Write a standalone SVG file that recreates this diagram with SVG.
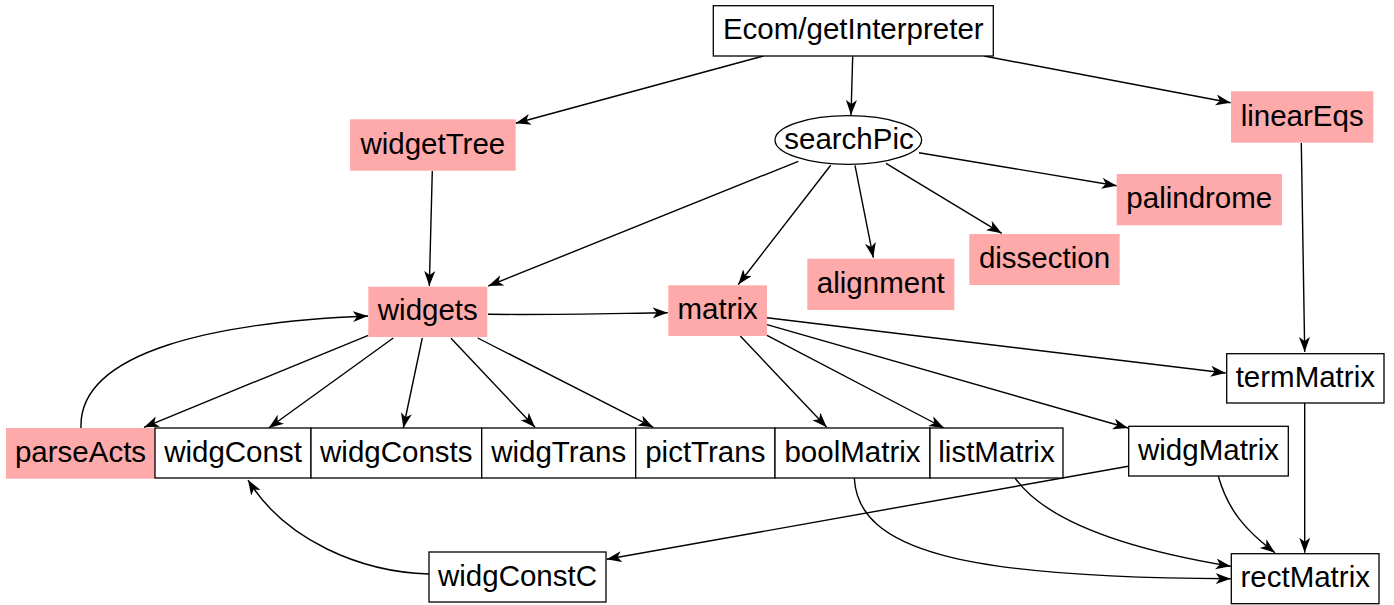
<svg xmlns="http://www.w3.org/2000/svg" width="1394" height="605" viewBox="0 0 1394 605">
<style>
text{font-family:"Liberation Sans",Arial,Helvetica,sans-serif;font-size:29.5px;fill:#000;text-anchor:middle}
.b{fill:#fff;stroke:#000;stroke-width:1.3}
.p{fill:#ffaaaa;stroke:none}
.e{fill:none;stroke:#000;stroke-width:1.4;marker-end:url(#ah)}
</style>
<defs>
<marker id="ah" markerUnits="userSpaceOnUse" markerWidth="16" markerHeight="12" refX="15" refY="5.5" orient="auto">
<path d="M0,0 L15,5.5 L0,11 L4,5.5 z" fill="#000"/>
</marker>
</defs>
<rect width="1394" height="605" fill="#fff"/>
<g id="connectors">
<path class="e" d="M763.3,56 L515.7,123.3"/>
<path class="e" d="M852.7,56 L851,115"/>
<path class="e" d="M984,56 L1230.7,102.7"/>
<path class="e" d="M432.3,171 C431,230 430,260 429.3,286"/>
<path class="e" d="M798.3,161.3 L488.3,286"/>
<path class="e" d="M830.7,165.3 L738.3,284.5"/>
<path class="e" d="M855,165.3 L873.3,257.7"/>
<path class="e" d="M886,163.3 L1001.7,233.3"/>
<path class="e" d="M919,152.7 L1116.7,185.7"/>
<path class="e" d="M1301.3,143 L1304.7,352"/>
<path class="e" d="M488,314.3 C560,315 610,313.5 667.7,312.7"/>
<path class="e" d="M81,428 C78,350 220,322 368,316"/>
<path class="e" d="M368.3,335.3 L144,427.3"/>
<path class="e" d="M393.3,338 L268.7,428"/>
<path class="e" d="M422.3,338 L403.3,428"/>
<path class="e" d="M451,338.3 L535,427.3"/>
<path class="e" d="M477.7,338 L653.3,427.3"/>
<path class="e" d="M767,317.7 L1225.7,373"/>
<path class="e" d="M767,324.7 L1128,428"/>
<path class="e" d="M767,335.3 L944,428"/>
<path class="e" d="M740.3,336 L826.7,427.3"/>
<path class="e" d="M1128.3,466.3 L606.7,559.3"/>
<path class="e" d="M429,574 C360,572 285,540 248,480"/>
<path class="e" d="M854.3,478 C858,550 960,578 1230.7,578.7"/>
<path class="e" d="M1015,478 C1045,520 1120,548 1230.7,566.3"/>
<path class="e" d="M1218.3,476.3 C1228,510 1245,530 1275,552.7"/>
<path class="e" d="M1304.7,403 L1304.7,552.7"/>
</g>
<g id="n-ecom"><rect class="b" x="713.3" y="5.7" width="280" height="50.3"/><text x="853.3" y="39.3">Ecom/getInterpreter</text></g>
<g id="n-widgetTree"><rect class="p" x="350" y="119.3" width="165.7" height="51.4"/><text x="432.8" y="153.5">widgetTree</text></g>
<g id="n-searchPic"><ellipse class="b" cx="848.3" cy="140" rx="73.3" ry="24.3"/><text x="849" y="148.5">searchPic</text></g>
<g id="n-linearEqs"><rect class="p" x="1231" y="91.3" width="142.3" height="51.4"/><text x="1302.2" y="125.5">linearEqs</text></g>
<g id="n-palindrome"><rect class="p" x="1116.7" y="174" width="165.3" height="51.3"/><text x="1199.3" y="208.2">palindrome</text></g>
<g id="n-dissection"><rect class="p" x="969.3" y="234" width="150.4" height="51"/><text x="1044.5" y="268">dissection</text></g>
<g id="n-alignment"><rect class="p" x="807.3" y="258.7" width="147" height="51.3"/><text x="880.8" y="292.8">alignment</text></g>
<g id="n-widgets"><rect class="p" x="368.3" y="286.7" width="119" height="50.3"/><text x="427.8" y="320.3">widgets</text></g>
<g id="n-matrix"><rect class="p" x="668.3" y="285.3" width="98.7" height="50.7"/><text x="717.7" y="319.2">matrix</text></g>
<g id="n-parseActs"><rect class="p" x="6" y="428" width="149" height="50.7"/><text x="80.5" y="461.8">parseActs</text></g>
<g id="n-widgConst"><rect class="b" x="155" y="428" width="156" height="50"/><text x="233" y="461.5">widgConst</text></g>
<g id="n-widgConsts"><rect class="b" x="311" y="428" width="170.7" height="50"/><text x="396.3" y="461.5">widgConsts</text></g>
<g id="n-widgTrans"><rect class="b" x="481.7" y="428" width="154" height="50"/><text x="558.7" y="461.5">widgTrans</text></g>
<g id="n-pictTrans"><rect class="b" x="635.7" y="428" width="139.3" height="50"/><text x="705.3" y="461.5">pictTrans</text></g>
<g id="n-boolMatrix"><rect class="b" x="775" y="428" width="155" height="50"/><text x="852.5" y="461.5">boolMatrix</text></g>
<g id="n-listMatrix"><rect class="b" x="930" y="428" width="133" height="50"/><text x="996.5" y="461.5">listMatrix</text></g>
<g id="n-widgMatrix"><rect class="b" x="1128.7" y="426.3" width="159.6" height="49.7"/><text x="1208.5" y="459.7">widgMatrix</text></g>
<g id="n-termMatrix"><rect class="b" x="1226.7" y="353.7" width="157.3" height="49.3"/><text x="1305.3" y="386.8">termMatrix</text></g>
<g id="n-rectMatrix"><rect class="b" x="1231.3" y="553.7" width="147.7" height="50"/><text x="1305.2" y="587.2">rectMatrix</text></g>
<g id="n-widgConstC"><rect class="b" x="429" y="552" width="177" height="50"/><text x="517.5" y="585.5">widgConstC</text></g>
</svg>
